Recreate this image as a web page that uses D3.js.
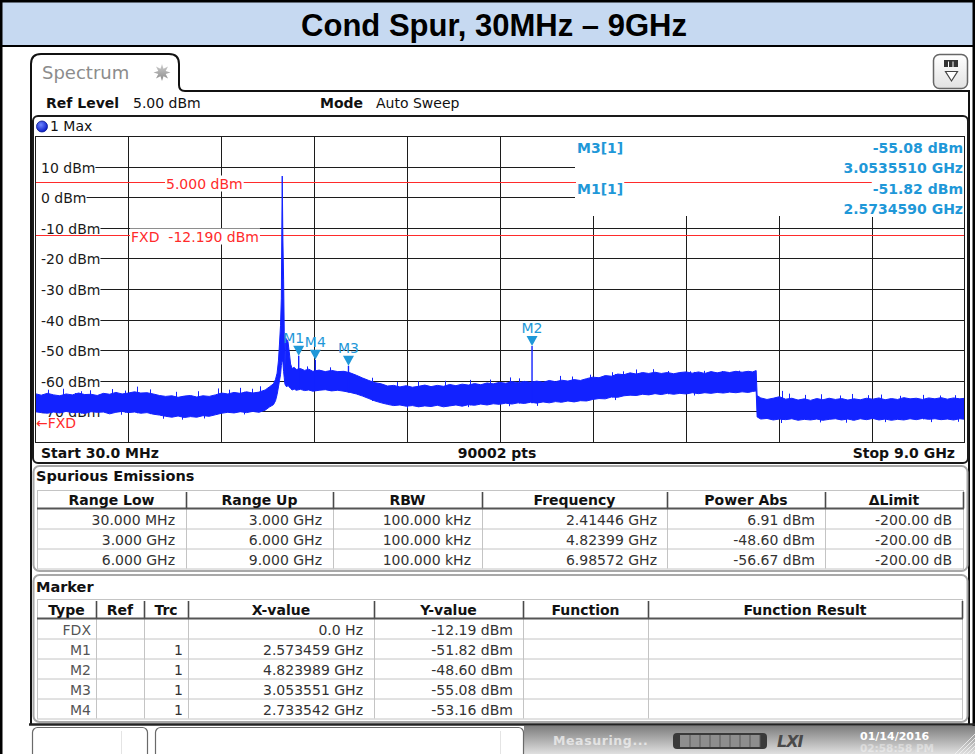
<!DOCTYPE html>
<html>
<head>
<meta charset="utf-8">
<title>Cond Spur, 30MHz – 9GHz</title>
<script src="https://cdn.jsdelivr.net/npm/d3@7"></script>
<style>
  html, body { margin: 0; padding: 0; background: #fff; }
  svg { display: block; }
  text { font-family: "DejaVu Sans", Verdana, sans-serif; }
</style>
</head>
<body>
<div id="chart"></div>
<script>
const titleText = "Cond Spur, 30MHz \u2013 9GHz";
const startGHz = 0.03;
const stopGHz = 9.0;
const sweepPoints = 90002;
const refLevel = 5.0;
const sweepMode = "Auto Sweep";
const traceName = "1 Max";

const levelTicks = [10, 0, -10, -20, -30, -40, -50, -60, -70];
const levelRange = [-80, 20];
const thresholdLevel = 5.0;
const fxdLevel = -12.19;

// max hold trace: [GHz, upper edge dBm, lower edge dBm]
const traceBand = [
  [0.03,-64.2,-70.1],[0.09,-64.7,-70.4],[0.15,-64.1,-70.6],[0.21,-64.6,-70.2],[0.27,-64.9,-70.5],
  [0.33,-64.3,-70.0],[0.39,-64.6,-70.4],[0.45,-64.0,-70.3],[0.51,-64.5,-70.7],[0.57,-64.4,-70.1],
  [0.63,-64.8,-70.3],[0.69,-64.1,-70.2],[0.75,-64.4,-70.8],[0.81,-63.8,-70.3],[0.87,-64.3,-70.0],
  [0.93,-64.0,-70.4],[0.99,-63.6,-70.2],[1.05,-64.0,-70.6],[1.11,-63.9,-70.4],[1.17,-64.3,-70.9],
  [1.23,-64.8,-71.2],[1.29,-65.1,-71.6],[1.35,-64.9,-71.9],[1.41,-65.4,-71.5],[1.47,-65.0,-72.0],
  [1.53,-64.8,-71.7],[1.59,-65.3,-71.9],[1.65,-64.9,-71.4],[1.71,-65.1,-71.6],[1.77,-64.6,-71.1],
  [1.83,-64.0,-70.6],[1.89,-64.3,-70.3],[1.95,-63.8,-70.5],[2.01,-64.1,-70.1],[2.07,-63.6,-70.4],
  [2.13,-64.0,-70.0],[2.19,-63.7,-70.3],[2.25,-63.0,-69.6],[2.29,-62.0,-68.6],[2.33,-61.0,-67.8],
  [2.35,-59.5,-66.5],[2.365,-57.5,-64.5],[2.378,-53.5,-62.0],[2.388,-48.0,-60.0],[2.398,-42.0,-58.0],
  [2.406,-33.0,-55.0],[2.4145,6.91,-53.0],[2.421,-14.0,-54.0],[2.428,-27.0,-57.0],[2.434,-44.0,-59.0],
  [2.44,-58.0,-61.0],[2.446,-46.0,-61.5],[2.458,-46.5,-62.0],[2.47,-47.2,-61.5],[2.482,-50.5,-62.0],
  [2.495,-54.5,-62.5],[2.51,-56.0,-63.0],[2.53,-55.6,-62.7],[2.55,-56.3,-63.1],[2.59,-56.0,-62.8],
  [2.63,-56.6,-63.2],[2.67,-56.2,-63.0],[2.71,-56.9,-63.4],[2.77,-56.5,-63.1],[2.83,-57.0,-62.9],
  [2.89,-56.6,-63.3],[2.95,-57.0,-63.1],[3.01,-56.9,-63.4],[3.07,-57.4,-63.8],[3.13,-58.2,-64.3],
  [3.19,-59.1,-65.0],[3.25,-59.9,-65.8],[3.31,-60.6,-66.6],[3.37,-61.0,-67.2],[3.43,-61.7,-67.7],
  [3.49,-61.5,-68.1],[3.55,-62.0,-67.9],[3.61,-61.6,-68.3],[3.67,-62.1,-68.1],[3.73,-61.8,-68.5],
  [3.79,-61.4,-68.2],[3.85,-61.9,-68.4],[3.91,-61.5,-68.0],[3.97,-61.8,-68.5],[4.03,-61.2,-68.2],
  [4.09,-61.6,-67.9],[4.15,-61.1,-68.3],[4.21,-61.4,-67.8],[4.27,-60.9,-68.0],[4.33,-61.3,-67.6],
  [4.39,-60.7,-67.9],[4.45,-61.0,-67.5],[4.51,-60.5,-67.7],[4.57,-60.8,-67.3],[4.63,-60.3,-67.6],
  [4.69,-60.6,-67.2],[4.75,-60.2,-67.4],[4.81,-60.5,-67.0],[4.87,-60.1,-67.3],[4.93,-60.5,-66.9],
  [4.99,-59.9,-67.2],[5.05,-60.3,-66.8],[5.11,-59.8,-67.0],[5.17,-60.1,-66.6],[5.23,-59.6,-66.9],
  [5.29,-59.9,-66.5],[5.35,-59.3,-66.6],[5.41,-58.8,-66.1],[5.47,-59.0,-65.8],[5.53,-58.3,-65.9],
  [5.59,-58.5,-65.3],[5.65,-57.8,-65.4],[5.71,-58.0,-64.9],[5.77,-57.4,-64.7],[5.83,-57.8,-64.8],
  [5.89,-57.3,-64.4],[5.95,-57.6,-64.6],[6.01,-57.2,-64.2],[6.07,-57.6,-64.5],[6.13,-57.3,-64.1],
  [6.19,-57.7,-64.4],[6.25,-57.3,-64.1],[6.31,-57.1,-64.3],[6.37,-57.5,-63.9],[6.43,-57.1,-64.2],
  [6.49,-57.6,-63.9],[6.55,-57.0,-64.1],[6.61,-57.4,-63.8],[6.67,-57.0,-64.0],[6.73,-57.3,-63.7],
  [6.79,-56.9,-63.9],[6.85,-57.2,-63.6],[6.91,-56.9,-63.8],[6.95,-57.1,-63.5],[6.9857,-56.67,-63.3],
  [6.995,-64.8,-71.8],[7.03,-65.6,-72.5],[7.09,-66.1,-72.3],[7.15,-65.7,-72.8],[7.21,-65.2,-72.5],
  [7.27,-66.0,-72.7],[7.33,-65.7,-72.4],[7.39,-66.3,-72.9],[7.45,-65.9,-72.6],[7.51,-66.4,-72.8],
  [7.57,-65.8,-72.5],[7.63,-66.2,-72.9],[7.69,-65.7,-72.6],[7.75,-66.1,-72.4],[7.81,-65.8,-72.8],
  [7.87,-66.3,-72.5],[7.93,-65.9,-72.9],[7.99,-66.2,-72.4],[8.05,-65.7,-72.7],[8.11,-66.0,-72.3],
  [8.17,-65.6,-72.8],[8.23,-66.2,-72.5],[8.29,-65.8,-72.9],[8.35,-66.1,-72.6],[8.41,-65.5,-72.8],
  [8.47,-65.9,-72.4],[8.53,-65.7,-72.7],[8.59,-66.1,-72.3],[8.65,-65.6,-72.6],[8.71,-65.9,-72.4],
  [8.77,-65.5,-72.7],[8.83,-66.0,-72.5],[8.89,-65.6,-72.8],[8.95,-65.9,-72.4],[9.0,-65.7,-72.6]
];

// single-bin noise spikes above the band and dips below it: [GHz, dBm]
const noiseSpikes = [
  [0.155,-62.9],[0.30,-62.6],[0.47,-63.4],[0.56,-63.1],[0.77,-62.7],[0.90,-63.2],[1.014,-61.9],
  [1.14,-62.8],[1.39,-63.6],[1.60,-63.4],[1.795,-62.5],[1.90,-62.9],[2.007,-62.3],[2.12,-62.6],
  [2.20,-61.8],[2.65,-55.3],[2.875,-55.6],[3.28,-59.0],[3.52,-60.4],[3.72,-60.2],[3.98,-60.0],
  [4.23,-59.7],[4.42,-59.6],[4.61,-58.9],[4.70,-59.2],[5.09,-58.4],[5.21,-58.6],[5.38,-58.0],
  [5.595,-57.2],[5.70,-56.9],[5.83,-56.3],[5.99,-56.2],[6.135,-56.8],[6.35,-56.9],[6.48,-56.75],
  [6.656,-56.8],[6.82,-56.7],[7.235,-63.3],[7.30,-64.2],[7.46,-64.6],[7.61,-64.4],[7.79,-64.8],
  [7.91,-64.3],[8.06,-64.7],[8.19,-64.5],[8.37,-64.9],[8.595,-64.6],[8.76,-64.8],[8.90,-64.7]
];
const noiseDips = [
  [0.42,-71.0],[0.86,-71.1],[1.26,-72.4],[1.45,-72.7],[1.66,-72.3],[2.05,-71.0],[3.62,-69.0],
  [4.21,-68.6],[4.60,-68.3],[4.87,-68.2],[5.62,-66.3],[6.39,-64.8],[7.23,-73.8],[7.60,-73.6],
  [7.85,-73.7],[8.23,-73.5],[8.67,-73.5],[8.93,-73.4]
];

const markerNames = ["M1", "M2", "M3", "M4"];
const markerFreq = [2.573459, 4.823989, 3.053551, 2.733542];
const markerLevel = [-51.82, -48.60, -55.08, -53.16];
const markerTrc = [1, 1, 1, 1];
const readoutMarkers = ["M3", "M1"];

const spurHeaders = ["Range Low", "Range Up", "RBW", "Frequency", "Power Abs", "\u0394Limit"];
const spurLow = ["30.000 MHz", "3.000 GHz", "6.000 GHz"];
const spurUp = ["3.000 GHz", "6.000 GHz", "9.000 GHz"];
const spurRbw = ["100.000 kHz", "100.000 kHz", "100.000 kHz"];
const spurFreq = [2.41446, 4.82399, 6.98572];
const spurPower = [6.91, -48.60, -56.67];
const spurDelta = [-200.00, -200.00, -200.00];

const markerHeaders = ["Type", "Ref", "Trc", "X-value", "Y-value", "Function", "Function Result"];

const statusText = "Measuring...";
const statusDate = "01/14/2016";
const statusTime = "02:58:58 PM";

const W = 975, H = 754;
const traceColor = "#1222ff";
const markerColor = "#1f98d8";
const redColor = "#ff2b2b";
const gridColor = "#1c1c1c";
const snap = v => Math.round(v) + 0.5;

const svg = d3.select("#chart").append("svg").attr("width", W).attr("height", H).attr("viewBox", `0 0 ${W} ${H}`);
const defs = svg.append("defs");

function vGrad(id, stops) {
    const g = defs.append("linearGradient").attr("id", id).attr("x1", 0).attr("y1", 0).attr("x2", 0).attr("y2", 1);
    stops.forEach(s => g.append("stop").attr("offset", s[0]).attr("stop-color", s[1]));
}
vGrad("statusGrad", [["0%", "#7e7e7e"], ["100%", "#e0e0e0"]]);
vGrad("iconGrad", [["0%", "#ffffff"], ["100%", "#e2e2e2"]]);
vGrad("starGrad", [["0%", "#cfcfcf"], ["100%", "#8a8a8a"]]);
const dotGrad = defs.append("radialGradient").attr("id", "dotGrad").attr("cx", "40%").attr("cy", "35%").attr("r", "65%");
dotGrad.append("stop").attr("offset", "0%").attr("stop-color", "#6f86ff");
dotGrad.append("stop").attr("offset", "100%").attr("stop-color", "#0a1cc8");
defs.append("clipPath").attr("id", "plotClip").append("rect").attr("x", 35).attr("y", 136).attr("width", 930).attr("height", 306);

svg.append("rect").attr("width", W).attr("height", H).attr("fill", "#fff");

// title bar
svg.append("rect").attr("x", 0).attr("y", 0).attr("width", W).attr("height", 46).attr("fill", "#c6d9f1");
svg.append("line").attr("x1", 0).attr("x2", W).attr("y1", 46).attr("y2", 46).attr("stroke", "#000").attr("stroke-width", 2);
svg.append("text").attr("x", 494).attr("y", 36).attr("text-anchor", "middle")
    .style("font-family", "'Liberation Sans', Arial, sans-serif").attr("font-weight", "bold").attr("font-size", 31)
    .attr("fill", "#000").text(titleText);
svg.append("path").attr("d", `M1.25,${H} V1.25 H${W - 1.25} V${H}`).attr("fill", "none").attr("stroke", "#000").attr("stroke-width", 2.5);

// window frame with tab
svg.append("path").attr("d", "M31,724 V64 Q31,54 41,54 H169 Q179,54 179,64 V85 Q179,91 185,91 H969 V724")
    .attr("fill", "none").attr("stroke", "#111").attr("stroke-width", 2);
svg.append("text").attr("x", 42).attr("y", 79).attr("font-size", 18).attr("fill", "#8c8c8c").text("Spectrum");
const starPts = d3.range(16).map(i => {
    const r = i % 2 ? 4 : 8.5;
    const a = Math.PI / 8 * i - Math.PI / 2;
    return [162 + r * Math.cos(a), 72.5 + r * Math.sin(a)];
});
svg.append("path").attr("d", d3.line()(starPts) + "Z").attr("fill", "url(#starGrad)");

// top right icon
svg.append("rect").attr("x", 933.5).attr("y", 54.5).attr("width", 34).attr("height", 34).attr("rx", 6)
    .attr("fill", "url(#iconGrad)").attr("stroke", "#666").attr("stroke-width", 1.5);
svg.append("rect").attr("x", 944).attr("y", 60).attr("width", 14).attr("height", 7).attr("fill", "#333");
[948.5, 953].forEach(v => svg.append("line").attr("x1", v).attr("x2", v).attr("y1", 61.5).attr("y2", 67).attr("stroke", "#fff"));
svg.append("path").attr("d", "M945.5,71.5 H957.5 L951.5,81 Z").attr("fill", "#fff").attr("stroke", "#444").attr("stroke-width", 1.2);

// header
const hdr = svg.append("text").attr("x", 46).attr("y", 108).attr("font-size", 14).attr("fill", "#111");
hdr.append("tspan").attr("font-weight", "bold").text("Ref Level");
hdr.append("tspan").attr("x", 133).text(`${refLevel.toFixed(2)} dBm`);
hdr.append("tspan").attr("x", 320).attr("font-weight", "bold").text("Mode");
hdr.append("tspan").attr("x", 376).text(sweepMode);

// diagram frame
svg.append("rect").attr("x", 33).attr("y", 116).attr("width", 935).attr("height", 347).attr("rx", 5)
    .attr("fill", "#fff").attr("stroke", "#1a1a1a").attr("stroke-width", 2);
svg.append("circle").attr("cx", 42).attr("cy", 126.5).attr("r", 5.5).attr("fill", "url(#dotGrad)").attr("stroke", "#0a1a90").attr("stroke-width", 0.8);
svg.append("text").attr("x", 50).attr("y", 131).attr("font-size", 14).attr("fill", "#111").text(traceName);

const plot = { left: 35, right: 965, top: 136, bottom: 442 };
const x = d3.scaleLinear().domain([startGHz, stopGHz]).range([plot.left, plot.right]);
const y = d3.scaleLinear().domain(levelRange).range([plot.bottom, plot.top]);

// grid
const grid = svg.append("g");
const divX = d3.range(1, 10).map(i => plot.left + i * (plot.right - plot.left) / 10);
grid.selectAll(".vg").data(divX).join("line").attr("class", "vg")
    .attr("x1", d => snap(d)).attr("x2", d => snap(d)).attr("y1", plot.top).attr("y2", plot.bottom)
    .attr("stroke", gridColor);
grid.selectAll(".hg").data(levelTicks).join("line").attr("class", "hg")
    .attr("x1", plot.left).attr("x2", plot.right).attr("y1", d => snap(y(d))).attr("y2", d => snap(y(d)))
    .attr("stroke", gridColor);

// level labels
const labelG = svg.append("g");
levelTicks.forEach(v => {
    const yy = snap(y(v));
    const t = labelG.append("text").attr("x", 41).attr("y", yy + 5).attr("font-size", 14).attr("fill", "#1a1a1a").text(`${v} dBm`);
    const w = t.node().getComputedTextLength();
    labelG.insert("rect", () => t.node()).attr("x", 36).attr("y", yy - 2).attr("width", w + 5).attr("height", 4).attr("fill", "#fff");
});

// marker readout area hides the grid
svg.append("rect").attr("x", 575).attr("y", 137).attr("width", 389).attr("height", 79).attr("fill", "#fff");

// threshold and FXD lines
const redG = svg.append("g");
[thresholdLevel, fxdLevel].forEach(v => redG.append("line")
    .attr("x1", plot.left).attr("x2", plot.right).attr("y1", snap(y(v))).attr("y2", snap(y(v)))
    .attr("stroke", redColor).attr("stroke-width", 1));

function boxedText(g, tx, ty, str, opts) {
    const t = g.append("text").attr("x", tx).attr("y", ty).attr("font-size", opts.size || 14)
        .attr("fill", opts.color).attr("text-anchor", opts.anchor || "start").style("white-space", "pre").text(str);
    if (opts.bold) t.attr("font-weight", "bold");
    const b = t.node().getBBox();
    g.insert("rect", () => t.node()).attr("x", b.x - 1).attr("y", b.y).attr("width", b.width + 2).attr("height", b.height).attr("fill", "#fff");
    return t;
}
boxedText(redG, 166, snap(y(thresholdLevel)) + 6, `${thresholdLevel.toFixed(3)} dBm`, { color: redColor });
boxedText(redG, 131, snap(y(fxdLevel)) + 6, `FXD  ${fxdLevel.toFixed(3)} dBm`, { color: redColor });
redG.append("text").attr("x", 36).attr("y", 428).attr("font-size", 14).attr("fill", redColor).text("\u2190FXD");

// readout
const roG = svg.append("g");
readoutMarkers.forEach((name, k) => {
    const i = markerNames.indexOf(name);
    const b0 = 153 + k * 41;
    boxedText(roG, 577, b0, `${name}[${markerTrc[i]}]`, { color: markerColor, bold: true });
    boxedText(roG, 963, b0, `${markerLevel[i].toFixed(2)} dBm`, { color: markerColor, bold: true, anchor: "end" });
    boxedText(roG, 963, b0 + 20, `${markerFreq[i].toFixed(7)} GHz`, { color: markerColor, bold: true, anchor: "end" });
});

// trace
const traceG = svg.append("g").attr("clip-path", "url(#plotClip)");
const area = d3.area().x(d => x(d[0])).y0(d => y(d[2])).y1(d => y(d[1]));
traceG.append("path").datum(traceBand).attr("d", area)
    .attr("fill", traceColor).attr("stroke", traceColor).attr("stroke-width", 1).attr("stroke-linejoin", "round");
const bis = d3.bisector(d => d[0]).left;
const nearest = f => traceBand[Math.min(bis(traceBand, f), traceBand.length - 1)];
noiseSpikes.forEach(s => traceG.append("line").attr("x1", snap(x(s[0]))).attr("x2", snap(x(s[0])))
    .attr("y1", y(s[1])).attr("y2", y(nearest(s[0])[2])).attr("stroke", traceColor).attr("stroke-width", 1));
noiseDips.forEach(s => traceG.append("line").attr("x1", snap(x(s[0]))).attr("x2", snap(x(s[0])))
    .attr("y1", y(nearest(s[0])[1])).attr("y2", y(s[1])).attr("stroke", traceColor).attr("stroke-width", 1));
markerNames.forEach((n, i) => {
    traceG.append("line").attr("x1", x(markerFreq[i])).attr("x2", x(markerFreq[i]))
        .attr("y1", y(markerLevel[i])).attr("y2", y(nearest(markerFreq[i])[2])).attr("stroke", traceColor).attr("stroke-width", 1.4);
});

// markers
const mkG = svg.append("g");
const labelShift = { M1: -5 };
markerNames.forEach((n, i) => {
    const mx = x(markerFreq[i]), my = y(markerLevel[i]);
    mkG.append("path").attr("d", `M${mx - 5.5},${my - 10} H${mx + 5.5} L${mx},${my} Z`).attr("fill", markerColor);
    mkG.append("text").attr("x", mx + (labelShift[n] || 0)).attr("y", my - 13).attr("text-anchor", "middle")
        .attr("font-size", 14).attr("fill", markerColor).text(n);
});

// plot border and bottom bar of diagram
svg.append("rect").attr("x", plot.left + 0.5).attr("y", plot.top + 0.5).attr("width", plot.right - plot.left - 1).attr("height", plot.bottom - plot.top)
    .attr("fill", "none").attr("stroke", gridColor);
const botG = svg.append("g").attr("font-size", 14).attr("font-weight", "bold").attr("fill", "#111");
botG.append("text").attr("x", 41).attr("y", 457.5).text(`Start ${(startGHz * 1000).toFixed(1)} MHz`);
botG.append("text").attr("x", 497).attr("y", 457.5).attr("text-anchor", "middle").text(`${sweepPoints} pts`);
botG.append("text").attr("x", 955).attr("y", 457.5).attr("text-anchor", "end").text(`Stop ${stopGHz.toFixed(1)} GHz`);

// tables
function drawTable(top, headH, edges, headers, rows, pads) {
    const g = svg.append("g");
    const left = edges[0], right = edges[edges.length - 1];
    const hb = top + headH, rowH = 20, bottom = hb + rowH * rows.length;
    g.append("rect").attr("x", left + 0.5).attr("y", top + 0.5).attr("width", right - left).attr("height", bottom - top)
        .attr("fill", "#fff").attr("stroke", "#c4c4c4");
    rows.slice(1).forEach((r, i) => g.append("line").attr("x1", left).attr("x2", right)
        .attr("y1", hb + rowH * (i + 1) + 0.5).attr("y2", hb + rowH * (i + 1) + 0.5).attr("stroke", "#c4c4c4"));
    edges.slice(1, -1).forEach(ex => g.append("line").attr("x1", ex + 0.5).attr("x2", ex + 0.5)
        .attr("y1", hb).attr("y2", bottom).attr("stroke", "#c4c4c4"));
    edges.slice(1).forEach(ex => g.append("line").attr("x1", ex + 0.5).attr("x2", ex + 0.5)
        .attr("y1", top + 2).attr("y2", hb).attr("stroke", "#4a4a4a").attr("stroke-width", 1.6));
    g.append("line").attr("x1", left).attr("x2", right + 1).attr("y1", hb).attr("y2", hb).attr("stroke", "#555").attr("stroke-width", 2);
    headers.forEach((h, j) => g.append("text").attr("x", (edges[j] + edges[j + 1]) / 2).attr("y", hb - 3.5)
        .attr("text-anchor", "middle").attr("font-size", 14).attr("font-weight", "bold").attr("fill", "#111").text(h));
    rows.forEach((r, i) => r.forEach((c, j) => {
        if (!c) return;
        g.append("text").attr("x", edges[j + 1] - pads[j]).attr("y", hb + rowH * i + 16)
            .attr("text-anchor", "end").attr("font-size", 14).attr("fill", j === 0 && /^[A-Z]/.test(c) ? "#555" : "#333").text(c);
    }));
}

svg.append("rect").attr("x", 33.5).attr("y", 466).attr("width", 934).attr("height", 105).attr("rx", 6)
    .attr("fill", "#fff").attr("stroke", "#a8a8a8").attr("stroke-width", 2);
svg.append("text").attr("x", 36).attr("y", 481).attr("font-size", 14.5).attr("font-weight", "bold").attr("fill", "#111").text("Spurious Emissions");
const spurRows = spurLow.map((lo, i) => [lo, spurUp[i], spurRbw[i], `${spurFreq[i].toFixed(5)} GHz`,
    `${spurPower[i].toFixed(2)} dBm`, `${spurDelta[i].toFixed(2)} dB`]);
drawTable(490, 18.5, [37, 186, 333, 482, 667, 825, 963], spurHeaders, spurRows, [11, 11, 11, 10, 10, 11]);

svg.append("rect").attr("x", 33.5).attr("y", 575).attr("width", 934).attr("height", 147).attr("rx", 6)
    .attr("fill", "#fff").attr("stroke", "#a8a8a8").attr("stroke-width", 2);
svg.append("text").attr("x", 36).attr("y", 592).attr("font-size", 14.5).attr("font-weight", "bold").attr("fill", "#111").text("Marker");
const markerRows = [["FDX", "", "", "0.0 Hz", `${fxdLevel.toFixed(2)} dBm`, "", ""]].concat(
    markerNames.map((n, i) => [n, "", String(markerTrc[i]), `${markerFreq[i].toFixed(6)} GHz`, `${markerLevel[i].toFixed(2)} dBm`, "", ""]));
drawTable(599, 19.5, [37, 96, 144, 188, 374, 523, 648, 962], markerHeaders, markerRows, [5, 5, 5, 11, 10, 10, 10]);

// status bar
svg.append("line").attr("x1", 29).attr("x2", W).attr("y1", 724.5).attr("y2", 724.5).attr("stroke", "#222").attr("stroke-width", 2.5);
svg.append("rect").attr("x", 524).attr("y", 726).attr("width", W - 524).attr("height", H - 726).attr("fill", "url(#statusGrad)");
[[32, 115, 121.5], [155, 368, 500.5]].forEach(b => {
    svg.append("rect").attr("x", b[0] + 0.5).attr("y", 727.5).attr("width", b[1]).attr("height", 34).attr("rx", 5)
        .attr("fill", "#fff").attr("stroke", "#6a6a6a").attr("stroke-width", 1.2);
    svg.append("line").attr("x1", b[2]).attr("x2", b[2]).attr("y1", 731).attr("y2", H).attr("stroke", "#e4e4e4");
});
svg.append("text").attr("x", 553).attr("y", 745).attr("font-size", 12.5).attr("font-weight", "bold").attr("letter-spacing", 0.6)
    .attr("fill", "#f2f2f2").attr("opacity", 0.75).text(statusText);
svg.append("rect").attr("x", 673).attr("y", 733).attr("width", 94).attr("height", 16).attr("rx", 4).attr("fill", "#3a3a3a");
svg.append("rect").attr("x", 680).attr("y", 735).attr("width", 80).attr("height", 12).attr("fill", "#8e8e8e");
d3.range(1, 9).forEach(i => svg.append("line").attr("x1", 680 + i * 10).attr("x2", 680 + i * 10).attr("y1", 735).attr("y2", 747).attr("stroke", "#5a5a5a"));
svg.append("text").attr("x", 777).attr("y", 747).attr("font-size", 16).attr("font-weight", "bold").attr("font-style", "italic")
    .attr("letter-spacing", -1).attr("fill", "#4a4a4a").text("LXI");
svg.append("text").attr("x", 860).attr("y", 740).attr("font-size", 11).attr("font-weight", "bold").attr("fill", "#fff").text(statusDate);
svg.append("text").attr("x", 860).attr("y", 751.5).attr("font-size", 10.5).attr("font-weight", "bold").attr("fill", "#fff").attr("opacity", 0.4).text(statusTime);
d3.range(0, 5).forEach(i => svg.append("line").attr("x1", 955 + i * 4).attr("y1", H).attr("x2", 975).attr("y2", H - 20 + i * 4)
    .attr("stroke", "#f4f4f4").attr("stroke-width", 0.8));
</script>
</body>
</html>
